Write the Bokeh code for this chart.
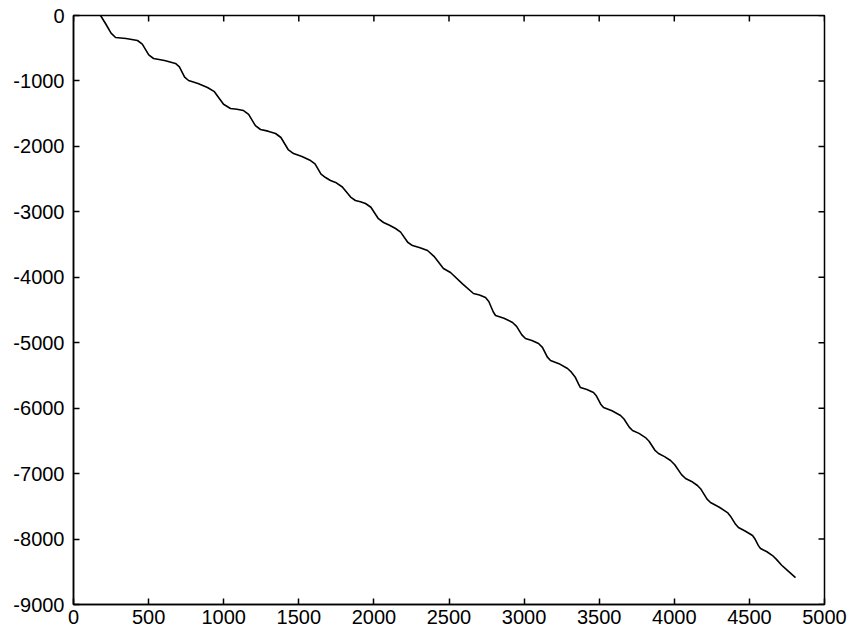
import math
from bokeh.plotting import figure
from bokeh.models import Range1d, FixedTicker
from bokeh.embed import file_html
from bokeh.resources import INLINE

# Traced curve (x, y)
x_vals = [180, 215, 250, 280, 350, 426, 458, 501, 533, 606, 679, 705, 740, 766, 829, 892,
          938, 999, 1045, 1088, 1132, 1166, 1211, 1245, 1295, 1345, 1381, 1429, 1465, 1521,
          1578, 1608, 1648, 1678, 1711, 1745, 1790, 1845, 1877, 1910, 1944, 1980, 2030, 2064,
          2104, 2144, 2178, 2225, 2257, 2307, 2357, 2400, 2463, 2510, 2590, 2663, 2703, 2743,
          2765, 2795, 2810, 2866, 2923, 2950, 2985, 3009, 3052, 3096, 3122, 3155, 3176, 3232,
          3289, 3315, 3342, 3362, 3375, 3418, 3462, 3482, 3510, 3529, 3585, 3642, 3665, 3700,
          3722, 3765, 3808, 3832, 3870, 3895, 3935, 3975, 4003, 4048, 4075, 4115, 4154, 4178,
          4218, 4241, 4297, 4354, 4374, 4408, 4427, 4474, 4521, 4536, 4560, 4574, 4614, 4654,
          4680, 4715, 4740, 4807]
y_vals = [0, -130, -270, -336, -352, -382, -437, -602, -657, -688, -733, -785, -941, -993,
          -1040, -1100, -1164, -1357, -1421, -1433, -1452, -1510, -1684, -1742, -1767, -1803,
          -1864, -2048, -2109, -2155, -2216, -2268, -2424, -2476, -2521, -2550, -2620, -2775,
          -2827, -2846, -2873, -2930, -3105, -3163, -3205, -3255, -3310, -3465, -3515, -3548,
          -3591, -3680, -3866, -3927, -4100, -4248, -4270, -4309, -4370, -4530, -4584, -4625,
          -4691, -4750, -4880, -4936, -4965, -5012, -5070, -5220, -5272, -5320, -5394, -5450,
          -5532, -5630, -5685, -5715, -5761, -5815, -5940, -5990, -6040, -6112, -6165, -6290,
          -6342, -6385, -6449, -6505, -6640, -6693, -6740, -6800, -6865, -7015, -7075, -7120,
          -7182, -7240, -7390, -7442, -7510, -7595, -7650, -7775, -7824, -7880, -7946, -7995,
          -8100, -8145, -8190, -8252, -8310, -8400, -8451, -8588]

x_ticks = [0, 500, 1000, 1500, 2000, 2500, 3000, 3500, 4000, 4500, 5000]
x_tick_labels = ["0", "500", "1000", "1500", "2000", "2500", "3000", "3500", "4000", "4500", "5000"]
y_ticks = [0, -1000, -2000, -3000, -4000, -5000, -6000, -7000, -8000, -9000]
y_tick_labels = ["0", "-1000", "-2000", "-3000", "-4000", "-5000", "-6000", "-7000", "-8000", "-9000"]

FONT = "Liberation Sans"
X0, X1 = 0, 5000
Y0, Y1 = -9000, 0

p = figure(width=849, height=636, output_backend="svg", toolbar_location=None,
           x_range=Range1d(X0, X1), y_range=Range1d(Y0, Y1),
           min_border_left=73, min_border_right=25, min_border_top=15, min_border_bottom=32)
p.grid.visible = False
p.outline_line_color = "black"
p.outline_line_width = 1.5
p.background_fill_color = "white"
p.border_fill_color = "white"

p.line(x_vals, y_vals, line_color="black", line_width=1.6)

for ax, ticks, labels in ((p.xaxis[0], x_ticks, x_tick_labels), (p.yaxis[0], y_ticks, y_tick_labels)):
    ax.ticker = FixedTicker(ticks=ticks)
    ax.major_label_overrides = {t: l for t, l in zip(ticks, labels)}
    ax.axis_line_color = "black"
    ax.axis_line_width = 1.5
    ax.major_tick_in = 6
    ax.major_tick_out = 0
    ax.minor_tick_line_color = None
    ax.major_tick_line_color = "black"
    ax.major_tick_line_width = 1.5
    ax.major_label_text_font = FONT
    ax.major_label_text_font_size = "20px"
    ax.major_label_text_color = "black"
p.xaxis[0].major_label_standoff = 5
p.yaxis[0].major_label_standoff = 9

# mirrored inward ticks on the top and right edges
p.ray(x=x_ticks, y=[Y1] * len(x_ticks), length=6, length_units="screen",
      angle=-math.pi / 2, line_color="black", line_width=1.5)
p.ray(x=[X1] * len(y_ticks), y=y_ticks, length=6, length_units="screen",
      angle=math.pi, line_color="black", line_width=1.5)

open("out.html", "w").write(file_html(p, INLINE))
